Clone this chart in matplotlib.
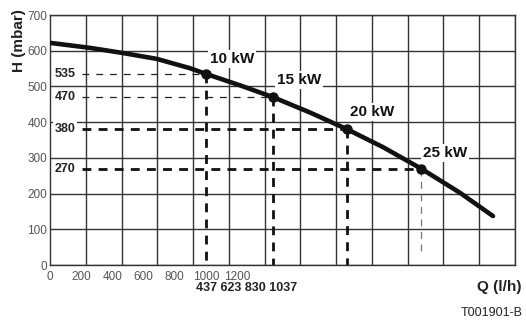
import matplotlib.pyplot as plt
from matplotlib.ticker import MultipleLocator

plt.rcParams['font.family'] = ['Liberation Sans', 'DejaVu Sans']

# pump curve: Q (l/h), H (mbar)
curve_q = [0, 256, 461, 686, 897, 1000, 1218, 1429, 1666, 1904, 2134, 2378, 2628, 2839]
curve_h = [622, 608, 594, 577, 551, 535, 503, 470, 427, 380, 330, 270, 202, 137]

# operating points
power_labels = ['10 kW', '15 kW', '20 kW', '25 kW']
point_q = [1000, 1429, 1904, 2378]
point_h = [535, 470, 380, 270]
level_labels = ['535', '470', '380', '270']
flow_text = '437 623 830 1037'

x_ticks = [0, 200, 400, 600, 800, 1000, 1200]
y_ticks = [0, 100, 200, 300, 400, 500, 600, 700]

fig = plt.figure(figsize=(5.26, 3.23), dpi=100)
ax = fig.add_axes([50 / 526, 58 / 323, 465 / 526, 250 / 323])
ax.set_xlim(0, 2980)
ax.set_ylim(0, 700)

# grid
grid_c = '#333333'
ax.xaxis.set_minor_locator(MultipleLocator(2980 / 13))
ax.yaxis.set_major_locator(MultipleLocator(100))
ax.grid(which='minor', axis='x', color=grid_c, lw=1.0, zorder=1)
ax.grid(which='major', axis='y', color=grid_c, lw=1.0, zorder=1)
for s in ax.spines.values():
    s.set_color(grid_c)
    s.set_linewidth(1.0)

ax.set_xticks(x_ticks)
ax.set_yticks(y_ticks)
ax.tick_params(length=0, labelsize=8.5, labelcolor='#555555')
ax.tick_params(axis='x', pad=4)
ax.tick_params(axis='y', pad=2)
ax.tick_params(which='minor', length=0)

# dashed guides
thin = dict(color='#222222', lw=0.9, dashes=(5.5, 5.5), zorder=2)
thick = dict(color='#111111', lw=2.0, dashes=(3.2, 2.6), zorder=2)
start_q = 205
for i, (q, h) in enumerate(zip(point_q, point_h)):
    hstyle = thin if i < 2 else thick
    ax.plot([start_q, q], [h, h], **hstyle)
    if i < 3:
        ax.plot([q, q], [h, 0], **thick)
    else:
        ax.plot([q, q], [h, 25], color='#777777', lw=0.9, dashes=(5.5, 4.5), zorder=2)
    ax.text(30, h, level_labels[i], fontsize=9, fontweight='bold', ha='left', va='center',
            color='#222222', zorder=4,
            bbox=dict(boxstyle='square,pad=0.15', fc='white', ec='none'))

# curve and points
ax.plot(curve_q, curve_h, color='#111111', lw=3.3, solid_capstyle='round',
        solid_joinstyle='round', zorder=5)
ax.plot(point_q, point_h, 'o', color='#111111', ms=6.5, zorder=6)

label_pos = [(1025, 577), (1455, 518), (1923, 428), (2391, 314)]
for (lx, ly), txt in zip(label_pos, power_labels):
    ax.text(lx, ly, txt, fontsize=11, fontweight='bold', ha='left', va='center',
            color='#111111', zorder=4,
            bbox=dict(boxstyle='square,pad=0.12', fc='white', ec='none'))

fig.text(196 / 526, 1 - 288 / 323, flow_text, fontsize=9, fontweight='bold',
         ha='left', va='center', color='#222222')
fig.text(0.992, 1 - 287 / 323, 'Q (l/h)', fontsize=11, fontweight='bold',
         ha='right', va='center', color='#222222')
fig.text(0.994, 1 - 313 / 323, 'T001901-B', fontsize=9, ha='right', va='center',
         color='#222222')
fig.text(19 / 526, 1 - 41 / 323, 'H (mbar)', fontsize=11, fontweight='bold',
         rotation=90, ha='center', va='center', color='#222222')

fig.savefig('out.png', dpi=100)
